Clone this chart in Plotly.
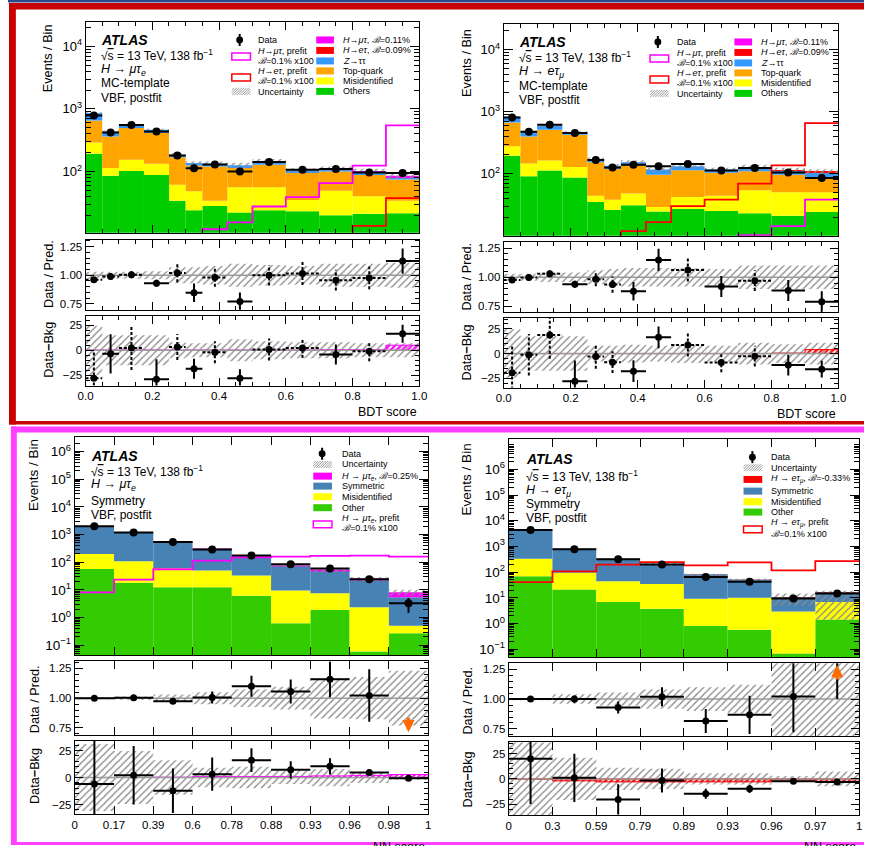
import plotly.graph_objects as go

W, H = 872, 846
FONT = "Liberation Sans, Arial, Helvetica, sans-serif"

# ======================= DATA =======================
bdt_edges = [0.0, 0.05, 0.1, 0.175, 0.25, 0.3, 0.35, 0.425, 0.5, 0.6, 0.7, 0.8, 0.9, 1.0]
bdt_tickvals = [0.0, 0.2, 0.4, 0.6, 0.8, 1.0]
nn_mt_labels = ["0", "0.17", "0.39", "0.6", "0.78", "0.88", "0.93", "0.96", "0.98", "1"]
nn_et_labels = ["0", "0.3", "0.59", "0.79", "0.89", "0.93", "0.96", "0.97", "1"]

# --- top-left: H -> mu tau_e, MC-template, VBF postfit
tl_others = [192, 85, 102, 88, 34, 24, 28, 22, 24, 23, 20, 21, 21.5]
tl_misid = [99, 28, 52, 45, 27, 24, 6, 34, 32, 12, 29, 19, 12.5]
tl_topq = [364, 250, 339, 277, 107, 76, 86, 57, 72, 59, 51, 48, 40]
tl_ztt = [203, 74, 65, 54, 17, 12, 13, 12, 17, 10, 9, 12, 6]
tl_het = [0, 0, 0, 0, 0, 0, 0, 0, 0, 0, 0, 0, 0]
tl_hmt = [0, 0, 0, 0, 0, 0, 0, 0, 0, 0, 0.5, 0.5, 5]
tl_data = [787, 421, 551, 437, 180, 112, 129, 100, 141, 106, 109, 96, 94]
tl_prefit_mt = [1, 1, 1, 1, 1, 1, 11.9, 15.3, 27.5, 38.8, 65, 124, 545]
tl_prefit_et = [1, 1, 1, 1, 1, 1, 2, 3, 4, 5, 7, 13.5, 37.4]
tl_ratio = [0.96, 0.99, 1.005, 0.93, 1.02, 0.847, 0.98, 0.77, 1.0, 1.015, 0.957, 0.977, 1.124]
tl_ratio_err = [0.02, 0.03, 0.03, 0.03, 0.08, 0.08, 0.08, 0.08, 0.09, 0.1, 0.09, 0.1, 0.11]
tl_unc = [0.03, 0.03, 0.03, 0.035, 0.07, 0.07, 0.08, 0.1, 0.09, 0.08, 0.1, 0.1, 0.11]
tl_dbkg = [-28, -3.6, 2.3, -29, 3.3, -18.4, -2, -28, 0.7, 2.3, -4.3, -1, 16.5]
tl_dbkg_err = [27, 19.5, 22, 20, 13, 10, 11, 9, 11, 10, 10, 10, 9]
tl_dbkg_unc = [24.5, 15, 15, 15, 8, 7, 7, 11, 9, 8, 8, 7, 7]
tl_ratio_dashed = [1, 1, 1, 0, 1, 0, 1, 0, 1, 1, 1, 1, 0]
tl_dbkg_dashed = [1, 0, 1, 0, 1, 0, 1, 0, 1, 1, 0, 1, 0]

# --- top-right: H -> e tau_mu, MC-template, VBF postfit
tr_others = [194, 91, 112, 87, 35, 26, 31, 24.5, 27, 25, 23, 21, 24]
tr_misid = [82, 54, 50, 41, 9, 12, 17, 4.5, 15, 19, 31, 29, 26]
tr_topq = [389, 252, 346, 295, 108, 81, 86, 67, 71, 59, 55, 46, 35]
tr_ztt = [161, 81, 80, 38, 20, 15, 18, 20, 18, 13, 17, 17, 18]
tr_het = [0, 0, 0, 0, 0, 0, 0, 0, 0, 0, 0, 0.5, 4]
tr_hmt = [0, 0, 0, 0, 0, 0, 0, 0, 0, 0, 0, 0, 0]
tr_data = [800, 472, 611, 449, 166, 125, 139, 131, 143, 112, 123, 104, 85]
tr_prefit_et = [1, 1, 1, 1, 1, 1, 11.9, 16.6, 30, 38, 69, 136, 650]
tr_prefit_mt = [1, 1, 1, 1, 1, 1, 1, 1, 1, 1, 10.2, 14.3, 38]
tr_ratio = [0.977, 0.997, 1.029, 0.94, 0.983, 0.937, 0.88, 1.149, 1.063, 0.92, 0.971, 0.886, 0.79]
tr_ratio_err = [0.02, 0.03, 0.03, 0.03, 0.06, 0.07, 0.08, 0.095, 0.1, 0.09, 0.09, 0.09, 0.09]
tr_unc = [0.03, 0.03, 0.04, 0.04, 0.06, 0.07, 0.08, 0.08, 0.08, 0.07, 0.1, 0.1, 0.1]
tr_dbkg = [-19.5, -1.3, 18.8, -28, -3, -8.7, -17.8, 16.4, 8.7, -9, -2.7, -11.7, -15.8]
tr_dbkg_err = [27, 21, 24, 21, 12.5, 11, 11, 11, 11.7, 10, 10.5, 10.4, 8.5]
tr_dbkg_unc = [24.5, 17.5, 17.5, 17.5, 8, 8, 9, 8, 9.5, 8, 11, 9.5, 11]
tr_ratio_dashed = [1, 1, 1, 0, 1, 1, 0, 0, 1, 0, 1, 0, 0]
tr_dbkg_dashed = [1, 1, 1, 0, 1, 1, 0, 0, 1, 1, 1, 0, 0]

# --- bottom-left: H -> mu tau_e, Symmetry, VBF postfit
bl_other = [57, 18, 12.5, 12.5, 6.2, 0.62, 1.9, 0.06, 0.27]
bl_misid = [143, 91, 49.5, 37.5, 26.8, 8.9, 5.7, 2.3, 0.24]
bl_sym = [1750, 1106, 498, 246, 127, 66, 42.4, 20.6, 4.9]
bl_sig = [0, 0, 0.3, 1, 1, 1, 1.5, 2, 2.8]
bl_data = [2000, 1180, 543, 287, 174, 85, 59, 24.3, 3.3]
bl_prefit = [8.2, 23.6, 56, 115, 150, 160, 170, 174, 160]
bl_ratio = [1.0, 1.003, 0.975, 1.006, 1.10, 1.056, 1.158, 1.023, 0.40]
bl_ratio_err = [0.01, 0.015, 0.02, 0.05, 0.088, 0.1, 0.15, 0.22, 0.22]
bl_unc = [0.01, 0.015, 0.03, 0.05, 0.075, 0.095, 0.17, 0.177, 0.23]
bl_dbkg = [-6.1, 2.1, -12.3, 3.1, 16, 7.1, 10.4, 4.6, -0.6]
bl_dbkg_err = [45, 27, 20.6, 15.4, 11, 8, 7.5, 3, 1.8]
bl_dbkg_unc = [31, 24.5, 16, 9, 10, 6, 8, 5, 2]

# --- bottom-right: H -> e tau_mu, Symmetry, VBF postfit
br_other = [69, 21, 6.9, 3.8, 0.81, 0.58, 0.068, 1.43]
br_misid = [263, 74, 37, 31, 8.5, 9.6, 2.9, 5.5]
br_sym = [4070, 715, 288, 178, 73, 42, 7.8, 10.1]
br_sig = [-0.3, -2, -3, -3, -3, -3, -1, -3]
br_data = [4400, 780, 320, 200, 64, 42, 9.5, 14.6]
br_prefit = [41, 107, 195, 247, 182, 240, 117, 270]
br_ratio = [1.0, 1.0, 0.93, 1.02, 0.817, 0.868, 1.022, 1.6]
br_ratio_err = [0.01, 0.03, 0.05, 0.08, 0.1, 0.16, 0.3, 0.6]
br_unc_up = [0.01, 0.04, 0.055, 0.08, 0.1, 0.12, 0.5, 0.35]
br_unc_dn = [0.01, 0.04, 0.055, 0.08, 0.1, 0.12, 0.5, 0.9]
br_dbkg = [20, 1, -20.4, -1.6, -14.8, -9.9, -2.3, -3]
br_dbkg_err = [45, 24, 15, 12, 5, 4, 2.5, 3]
br_dbkg_unc = [36, 21, 11, 10, 5.6, 5.6, 2.8, 7.4]

# colours
C_OTHERS = "#00cc00"
C_OTHER2 = "#33cc00"
C_MISID = "#ffff00"
C_TOP = "#ffa500"
C_ZTT = "#3399ff"
C_MT = "#ff00ff"
C_ET = "#ff0000"
C_SYM = "#4682b4"
C_HATCH = "#8c8c8c"
C_ARROW = "#ff6a00"

# ======================= HELPERS =======================
fig = go.Figure()
shapes, annots, axes = [], [], {}
FLOOR = 1e-4


def PX(x):
    return x / W


def PY(y):
    return 1.0 - y / H


def ids(i):
    return ("x" if i == 1 else f"x{i}"), ("y" if i == 1 else f"y{i}")


def key(c, i):
    return f"{c}axis" if i == 1 else f"{c}axis{i}"


def centers_of(e):
    return [(a + b) / 2 for a, b in zip(e[:-1], e[1:])]


def widths_of(e):
    return [b - a for a, b in zip(e[:-1], e[1:])]


def hatch_bar(i, xc, base, y, w, color, sol=0.28, size=5, outline=0):
    xa, ya = ids(i)
    fig.add_trace(go.Bar(
        x=xc, y=y, base=base, width=w, xaxis=xa, yaxis=ya, hoverinfo="skip",
        marker=dict(color="rgba(0,0,0,0)", line=dict(width=outline, color=color),
                    pattern=dict(shape="/", fgcolor=color, bgcolor="rgba(0,0,0,0)",
                                 size=size, solidity=sol, fillmode="replace"))))


def err_crosses(i, xc, hw, vals, errs, dashed, msize=7):
    xa, ya = ids(i)
    for dash in (True, False):
        xs, ys = [], []
        for c, h, v, e, f in zip(xc, hw, vals, errs, dashed):
            if bool(f) != dash:
                continue
            xs += [c - h, c + h, None, c, c, None]
            ys += [v, v, None, v - e, v + e, None]
        if xs:
            fig.add_trace(go.Scatter(x=xs, y=ys, mode="lines", xaxis=xa, yaxis=ya, hoverinfo="skip",
                                     line=dict(color="black", width=2,
                                               dash="3px,2px" if dash else "solid")))
    fig.add_trace(go.Scatter(x=xc, y=vals, mode="markers", xaxis=xa, yaxis=ya,
                             marker=dict(color="black", size=msize)))


def draw_main(i, edges, comps, colors, data, derr, prefits, unc_up, unc_dn, neg_sig=None, neg_color=None):
    xa, ya = ids(i)
    xc, w = centers_of(edges), widths_of(edges)
    level = [FLOOR] * len(xc)
    for vals, col in zip(comps, colors):
        fig.add_trace(go.Bar(x=xc, y=vals, base=level, width=w, xaxis=xa, yaxis=ya, hoverinfo="skip",
                             marker=dict(color=col, line=dict(width=0))))
        level = [a + b for a, b in zip(level, vals)]
    total = level
    if neg_sig is not None:
        total = [a + b for a, b in zip(level, neg_sig)]
        hatch_bar(i, xc, total, [-s for s in neg_sig], w, neg_color, sol=0.45, size=4)
    hatch_bar(i, xc, [t * (1 - d) for t, d in zip(total, unc_dn)],
              [t * (u + d) for t, u, d in zip(total, unc_up, unc_dn)], w, C_HATCH)
    for vals, col in prefits:
        fig.add_trace(go.Scatter(x=edges, y=list(vals) + [vals[-1]], mode="lines", xaxis=xa, yaxis=ya,
                                 hoverinfo="skip", line=dict(color=col, width=1.8, shape="hv")))
    fig.add_trace(go.Scatter(
        x=xc, y=data, mode="markers", xaxis=xa, yaxis=ya,
        marker=dict(color="black", size=8),
        error_x=dict(type="data", array=[v / 2 for v in w], thickness=2, width=0, color="black"),
        error_y=dict(type="data", array=derr, thickness=2, width=0, color="black")))


def draw_ratio(i, edges, vals, errs, dashed, unc_up, unc_dn):
    xa, ya = ids(i)
    xc, w = centers_of(edges), widths_of(edges)
    hatch_bar(i, xc, [1 - d for d in unc_dn], [u + d for u, d in zip(unc_up, unc_dn)], w, C_HATCH)
    fig.add_trace(go.Scatter(x=[edges[0], edges[-1]], y=[1, 1], mode="lines", xaxis=xa, yaxis=ya,
                             hoverinfo="skip", line=dict(color="#9a9a9a", width=1.5)))
    err_crosses(i, xc, [v / 2 for v in w], vals, errs, dashed)


def draw_dbkg(i, edges, vals, errs, dashed, band, sig, sig_color):
    xa, ya = ids(i)
    xc, w = centers_of(edges), widths_of(edges)
    hatch_bar(i, xc, [-b for b in band], [2 * b for b in band], w, C_HATCH)
    hatch_bar(i, xc, [0] * len(xc), sig, w, sig_color, sol=0.5, size=4, outline=1)
    fig.add_trace(go.Scatter(x=[edges[0], edges[-1]], y=[0, 0], mode="lines", xaxis=xa, yaxis=ya,
                             hoverinfo="skip", line=dict(color="#9a9a9a", width=1.5)))
    err_crosses(i, xc, [v / 2 for v in w], vals, errs, dashed)


AX = dict(showline=True, linecolor="black", linewidth=1, mirror="ticks", ticks="inside",
          tickcolor="black", tickwidth=1, showgrid=False, zeroline=False, fixedrange=True)


def tf(size):
    return dict(size=size, family=FONT, color="black")


def set_x(i, dom, xr, tickvals, ticktext=None, tickformat=None, labels=False, minor=None, fs=11.5):
    d = dict(AX, domain=[PX(dom[0]), PX(dom[1])], anchor=ids(i)[1], range=xr, tickmode="array",
             tickvals=tickvals, ticklen=8, showticklabels=labels, tickfont=tf(fs))
    if ticktext is not None:
        d["ticktext"] = ticktext
    if tickformat:
        d["tickformat"] = tickformat
    if minor:
        d["minor"] = dict(dtick=minor, ticks="inside", ticklen=4, tickcolor="black")
    axes[key("x", i)] = d


def set_ylog(i, dom, yr, kmin, kmax, fs):
    ks = list(range(kmin, kmax + 1))
    vals = [10.0 ** k for k in ks]
    text = ["10<sup>" + str(k).replace("-", "−") + "</sup>" for k in ks]
    mvals = [m * 10.0 ** k for k in range(kmin - 1, kmax + 1) for m in range(2, 10)]
    axes[key("y", i)] = dict(AX, type="log", domain=[PY(dom[1]), PY(dom[0])], anchor=ids(i)[0],
                             range=yr, tickmode="array", tickvals=vals, ticktext=text, ticklen=9,
                             tickfont=tf(fs),
                             minor=dict(tickmode="array", tickvals=mvals, ticks="inside", ticklen=5,
                                        tickcolor="black"))


def set_ylin(i, dom, yr, tickvals, tickformat, minor, fs=11.5):
    axes[key("y", i)] = dict(AX, domain=[PY(dom[1]), PY(dom[0])], anchor=ids(i)[0], range=yr,
                             tickmode="array", tickvals=tickvals, tickformat=tickformat, ticklen=8,
                             tickfont=tf(fs),
                             minor=dict(dtick=minor, ticks="inside", ticklen=4, tickcolor="black"))


def text(x, y, s, size=9, xanchor="left", yanchor="middle", angle=0):
    annots.append(dict(xref="paper", yref="paper", x=PX(x), y=PY(y), text=s, showarrow=False,
                       xanchor=xanchor, yanchor=yanchor, textangle=angle, font=tf(size)))


def box(x0, y0, x1, y1, fill="rgba(0,0,0,0)", line=None, lw=0):
    shapes.append(dict(type="rect", xref="paper", yref="paper", x0=PX(x0), x1=PX(x1), y0=PY(y1),
                       y1=PY(y0), fillcolor=fill, layer="above",
                       line=dict(color=line or "rgba(0,0,0,0)", width=lw)))


def seg(x0, y0, x1, y1, color, width):
    shapes.append(dict(type="line", xref="paper", yref="paper", x0=PX(x0), y0=PY(y0), x1=PX(x1),
                       y1=PY(y1), layer="above", line=dict(color=color, width=width)))


def hatch_swatch(x0, y0, x1, y1, color="#999999"):
    h = y1 - y0
    s = x0 - h
    while s < x1:
        ax, ay = s, y1
        bx, by = s + h, y0
        if ax < x0:
            ay = y1 - (x0 - ax)
            ax = x0
        if bx > x1:
            by = y0 + (bx - x1)
            bx = x1
        seg(ax, ay, bx, by, color, 1)
        s += 2.5


def data_symbol(xc, yc):
    seg(xc, yc - 6, xc, yc + 6, "black", 2)
    shapes.append(dict(type="circle", xref="paper", yref="paper", x0=PX(xc - 3.5), x1=PX(xc + 3.5),
                       y0=PY(yc + 3.5), y1=PY(yc - 3.5), fillcolor="black", layer="above",
                       line=dict(width=0)))


# ======================= PANELS =======================
PANELS = [
    dict(x=(79, 419), main=(22, 233), ratio=(240, 310), dbkg=(316, 386)),
    dict(x=(505, 846), main=(24, 236), ratio=(242, 312), dbkg=(318, 388)),
    dict(x=(68, 428), main=(438, 656), ratio=(662, 736), dbkg=(742, 815)),
    dict(x=(510, 867), main=(440, 658), ratio=(664, 737), dbkg=(743, 816)),
]

# ---- top-left
draw_main(1, bdt_edges, [tl_others, tl_misid, tl_topq, tl_ztt, tl_het, tl_hmt],
          [C_OTHERS, C_MISID, C_TOP, C_ZTT, C_ET, C_MT], tl_data, tl_dbkg_err,
          [(tl_prefit_mt, C_MT), (tl_prefit_et, C_ET)], tl_unc, tl_unc)
draw_ratio(2, bdt_edges, tl_ratio, tl_ratio_err, tl_ratio_dashed, tl_unc, tl_unc)
draw_dbkg(3, bdt_edges, tl_dbkg, tl_dbkg_err, tl_dbkg_dashed, tl_dbkg_unc, tl_hmt, C_MT)

# ---- top-right
draw_main(4, bdt_edges, [tr_others, tr_misid, tr_topq, tr_ztt, tr_het, tr_hmt],
          [C_OTHERS, C_MISID, C_TOP, C_ZTT, C_ET, C_MT], tr_data, tr_dbkg_err,
          [(tr_prefit_mt, C_MT), (tr_prefit_et, C_ET)], tr_unc, tr_unc)
draw_ratio(5, bdt_edges, tr_ratio, tr_ratio_err, tr_ratio_dashed, tr_unc, tr_unc)
draw_dbkg(6, bdt_edges, tr_dbkg, tr_dbkg_err, tr_dbkg_dashed, tr_dbkg_unc, tr_het, C_ET)

# ---- bottom-left
bl_edges = list(range(len(nn_mt_labels)))
bl_solid = [0] * len(bl_data)
draw_main(7, bl_edges, [bl_other, bl_misid, bl_sym, bl_sig], [C_OTHER2, C_MISID, C_SYM, C_MT],
          bl_data, bl_dbkg_err, [(bl_prefit, C_MT)], bl_unc, bl_unc)
draw_ratio(8, bl_edges, bl_ratio, bl_ratio_err, bl_solid, bl_unc, bl_unc)
draw_dbkg(9, bl_edges, bl_dbkg, bl_dbkg_err, bl_solid, bl_dbkg_unc, bl_sig, C_MT)

# ---- bottom-right
br_edges = list(range(len(nn_et_labels)))
br_solid = [0] * len(br_data)
draw_main(10, br_edges, [br_other, br_misid, br_sym], [C_OTHER2, C_MISID, C_SYM],
          br_data, br_dbkg_err, [(br_prefit, C_ET)], br_unc_up, br_unc_dn,
          neg_sig=br_sig, neg_color=C_ET)
draw_ratio(11, br_edges, br_ratio, br_ratio_err, br_solid, br_unc_up, br_unc_dn)
draw_dbkg(12, br_edges, br_dbkg, br_dbkg_err, br_solid, br_dbkg_unc, br_sig, C_ET)

# ---- axes
for p in range(2):
    P = PANELS[p]
    b = 3 * p
    set_x(b + 1, P["x"], [0, 1], bdt_tickvals, minor=0.05)
    set_x(b + 2, P["x"], [0, 1], bdt_tickvals, minor=0.05)
    set_x(b + 3, P["x"], [0, 1], bdt_tickvals, tickformat=".1f", labels=True, minor=0.05)
set_ylog(1, PANELS[0]["main"], [1.02, 4.39], 2, 4, 13)
set_ylog(4, PANELS[1]["main"], [1.0, 4.41], 2, 4, 13)
set_ylin(2, PANELS[0]["ratio"], [0.70, 1.31], [0.75, 1.0, 1.25], ".2f", 0.05)
set_ylin(5, PANELS[1]["ratio"], [0.705, 1.305], [0.75, 1.0, 1.25], ".2f", 0.05)
set_ylin(3, PANELS[0]["dbkg"], [-35.2, 34.5], [-25, 0, 25], "d", 5)
set_ylin(6, PANELS[1]["dbkg"], [-34.4, 36.4], [-25, 0, 25], "d", 5)

for p, labels in ((2, nn_mt_labels), (3, nn_et_labels)):
    P = PANELS[p]
    b = 3 * p
    n = len(labels) - 1
    pos = list(range(n + 1))
    set_x(b + 1, P["x"], [0, n], pos, ticktext=labels)
    set_x(b + 2, P["x"], [0, n], pos, ticktext=labels)
    set_x(b + 3, P["x"], [0, n], pos, ticktext=labels, labels=True)
set_ylog(7, PANELS[2]["main"], [-1.36, 6.51], -1, 6, 13.5)
set_ylog(10, PANELS[3]["main"], [-1.31, 7.16], -1, 6, 13.5)
set_ylin(8, PANELS[2]["ratio"], [0.69, 1.31], [0.75, 1.0, 1.25], ".2f", 0.05)
set_ylin(11, PANELS[3]["ratio"], [0.69, 1.30], [0.75, 1.0, 1.25], ".2f", 0.05)
set_ylin(9, PANELS[2]["dbkg"], [-33.8, 33.7], [-25, 0, 25], "d", 5)
set_ylin(12, PANELS[3]["dbkg"], [-35.9, 36.5], [-25, 0, 25], "d", 5)

# off-scale arrows
annots.append(dict(xref="x8", yref="y8", x=centers_of(bl_edges)[-1], y=0.715, ax=0, ay=-16, text="",
                   showarrow=True, arrowhead=2, arrowsize=0.7, arrowwidth=3.5, arrowcolor=C_ARROW))
annots.append(dict(xref="x11", yref="y11", x=centers_of(br_edges)[-1], y=1.285, ax=0, ay=16, text="",
                   showarrow=True, arrowhead=2, arrowsize=0.7, arrowwidth=3.5, arrowcolor=C_ARROW))

# ======================= TEXT / LEGENDS =======================
SQRT = "√<span style=\"text-decoration:overline\">s</span> = 13 TeV, 138 fb<sup>−1</sup>"
BSC = "<i>ℬ</i>"

# axis titles
text(41, 22, "Events / Bin", 12.7, "center", "top", -90)
text(467.5, 27, "Events / Bin", 12.7, "center", "top", -90)
text(26, 438, "Events / Bin", 13.5, "center", "top", -90)
text(467.5, 442, "Events / Bin", 13.5, "center", "top", -90)
text(41, 274, "Data / Pred.", 12.7, "center", "middle", -90)
text(467.5, 277, "Data / Pred.", 12.7, "center", "middle", -90)
text(27.5, 700, "Data / Pred.", 12.7, "center", "middle", -90)
text(469, 701, "Data / Pred.", 12.7, "center", "middle", -90)
text(41, 350, "Data<b>−</b>Bkg", 12.7, "center", "middle", -90)
text(467.5, 353, "Data<b>−</b>Bkg", 12.7, "center", "middle", -90)
text(27.5, 777, "Data<b>−</b>Bkg", 12.7, "center", "middle", -90)
text(469, 780, "Data<b>−</b>Bkg", 12.7, "center", "middle", -90)
text(419, 412, "BDT score", 12.5, "right")
text(846, 414, "BDT score", 12.5, "right")
text(427, 848, "NN score", 12.5, "right", "middle")
text(866, 848, "NN score", 12.5, "right", "middle")


# title blocks
def title_block(x, ys, chan, method):
    text(x, ys[0], "<b><i>ATLAS</i></b>", 14)
    text(x, ys[1], SQRT, 12)
    text(x, ys[2], chan, 12.5)
    text(x, ys[3], method, 12)
    text(x, ys[4], "VBF, postfit", 12)


MT_E = "<i>H</i> → <i>μτ</i><sub><i>e</i></sub>"
ET_M = "<i>H</i> → <i>eτ</i><sub><i>μ</i></sub>"
title_block(93, [40, 55, 70, 83, 98], MT_E, "MC-template")
title_block(519, [42, 57, 72, 86, 100], ET_M, "MC-template")
title_block(83, [457, 472, 486, 502, 516], MT_E, "Symmetry")
title_block(526, [460, 477, 492, 505, 519], ET_M, "Symmetry")


# top legends
def top_legend(x0, y0):
    data_symbol(x0 + 157, y0 + 18)
    text(x0 + 174, y0 + 18, "Data")
    box(x0 + 149, y0 + 31, x0 + 168, y0 + 38, "white", C_MT, 1.5)
    text(x0 + 174, y0 + 29, "<i>H</i>→<i>μτ</i>, prefit")
    text(x0 + 174, y0 + 39, BSC + "=0.1% x100")
    box(x0 + 149, y0 + 52, x0 + 168, y0 + 59, "white", C_ET, 1.5)
    text(x0 + 174, y0 + 49, "<i>H</i>→<i>eτ</i>, prefit")
    text(x0 + 174, y0 + 59, BSC + "=0.1% x100")
    hatch_swatch(x0 + 149, y0 + 66, x0 + 168, y0 + 73)
    text(x0 + 174, y0 + 70, "Uncertainty")
    rows = [18, 28.5, 39, 49, 59, 69.5]
    items = [(C_MT, "<i>H</i>→<i>μτ</i>, " + BSC + "=0.11%"),
             (C_ET, "<i>H</i>→<i>eτ</i>, " + BSC + "=0.09%"),
             (C_ZTT, "<i>Z</i>→ττ"),
             (C_TOP, "Top-quark"),
             (C_MISID, "Misidentified"),
             (C_OTHERS, "Others")]
    for r, (c, s) in zip(rows, items):
        box(x0 + 235, y0 + r - 3.5, x0 + 253, y0 + r + 3.5, c)
        text(x0 + 260, y0 + r, s)


top_legend(79, 22)
top_legend(505, 24)


def bottom_legend(x0, y0, sx, tx, rows, sig_col, sig_txt, chan_txt, other_col):
    data_symbol(x0 + sx + 9, y0 + rows[0])
    text(x0 + tx, y0 + rows[0], "Data")
    hatch_swatch(x0 + sx, y0 + rows[1] - 3.5, x0 + sx + 19, y0 + rows[1] + 3.5)
    text(x0 + tx, y0 + rows[1], "Uncertainty")
    items = [(sig_col, sig_txt), (C_SYM, "Symmetric"), (C_MISID, "Misidentified"), (other_col, "Other")]
    for r, (c, s) in zip(rows[2:6], items):
        box(x0 + sx, y0 + r - 3.5, x0 + sx + 19, y0 + r + 3.5, c)
        text(x0 + tx, y0 + r, s)
    box(x0 + sx, y0 + rows[8] - 3.3, x0 + sx + 19, y0 + rows[8] + 3.3, "white", sig_col, 1.5)
    text(x0 + tx, y0 + rows[6], chan_txt + ", prefit")
    text(x0 + tx, y0 + rows[7], BSC + "=0.1% x100")


bottom_legend(68, 438, 243, 270, [16.3, 27, 38.7, 48.7, 59.3, 70.3, 81.3, 91, 87], C_MT,
              "<i>H</i> → <i>μτ</i><sub><i>e</i></sub>, " + BSC + "=0.25%",
              "<i>H</i> → <i>μτ</i><sub><i>e</i></sub>", C_OTHER2)
bottom_legend(510, 440, 239.3, 265, [17.7, 28.3, 40, 51.7, 62.3, 72.7, 84, 94.3, 90], C_ET,
              "<i>H</i> → <i>eτ</i><sub><i>μ</i></sub>, " + BSC + "=-0.33%",
              "<i>H</i> → <i>eτ</i><sub><i>μ</i></sub>", C_OTHER2)

# ======================= FRAMES =======================
C_NAVY = "#2c4a8c"
C_RED = "#c80000"
C_PINK = "#ff40ff"
box(0, 0, 872, 2.5, C_NAVY)
box(2, 3, 872, 9.5, C_RED)
box(1, 3, 8, 425, C_RED)
box(1, 421.5, 872, 425, C_RED)
box(3, 427, 872, 433, C_PINK)
box(3, 427, 9, 846, C_PINK)
box(3, 843, 872, 846, C_PINK)

fig.update_layout(
    width=W, height=H, margin=dict(l=0, r=0, t=0, b=0),
    paper_bgcolor="white", plot_bgcolor="white", barmode="overlay", showlegend=False,
    font=dict(family=FONT, size=12, color="black"),
    shapes=shapes, annotations=annots, **axes)

fig.write_html("out.html")
